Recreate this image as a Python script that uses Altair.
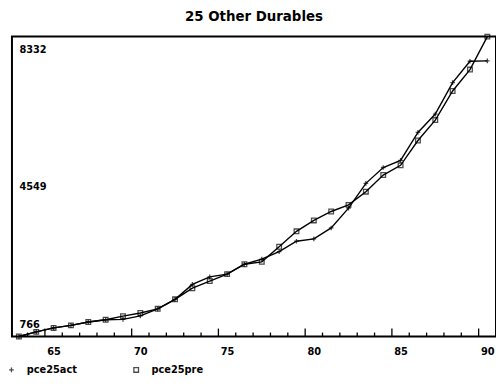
import altair as alt
import pandas as pd

years = list(range(63, 91))
act = [766, 883, 983, 1048, 1133, 1190, 1200, 1285, 1465, 1705, 2080, 2270, 2340, 2590,
       2720, 2906, 3170, 3230, 3505, 4004, 4630, 5030, 5210, 5915, 6377, 7170, 7710, 7720]
pre = [766, 883, 983, 1048, 1133, 1190, 1280, 1360, 1465, 1705, 1985, 2165, 2340, 2590,
       2650, 3030, 3420, 3695, 3920, 4087, 4420, 4840, 5085, 5710, 6226, 6960, 7500, 8332]
series_names = ["pce25act", "pce25pre"]
y_ticks = [766, 4549, 8332]
x_labels = [65, 70, 75, 80, 85, 90]
tick_pos = [63.5 + i for i in range(27)]

rows = []
for i, yr in enumerate(years):
    rows.append({"year": yr, "series": series_names[0], "value": act[i]})
    rows.append({"year": yr, "series": series_names[1], "value": pre[i]})
df = pd.DataFrame(rows)
ticks_df = pd.DataFrame({"pos": tick_pos,
                         "major": [((p + 0.5) % 5 == 0) for p in tick_pos]})

FONT = "'DejaVu Sans Condensed', 'DejaVu Sans', sans-serif"
xscale = alt.Scale(domain=[62.6, 90.5], nice=False, zero=False)
yscale = alt.Scale(domain=[766, 8332], nice=False, zero=False)

base = alt.Chart(df)
lines = base.mark_line(color="black", strokeWidth=1.4).encode(
    x=alt.X("year:Q", scale=xscale,
            axis=alt.Axis(values=x_labels, title=None, tickSize=0, domain=False,
                          grid=False, labelFont=FONT, labelFontSize=11, format="d",
                          labelFontWeight="bold", labelColor="black", labelPadding=9)),
    y=alt.Y("value:Q", scale=yscale,
            axis=alt.Axis(values=y_ticks, title=None, tickSize=0, domain=False,
                          grid=False, labelAlign="left", labelPadding=-7, format="d",
                          labelFlush=True, labelFlushOffset=-7, labelFont=FONT,
                          labelFontSize=11, labelFontWeight="bold", labelColor="black")),
    detail="series:N",
)
points = base.mark_point(filled=False, color="black", strokeWidth=1.3, size=22).encode(
    x=alt.X("year:Q", scale=xscale),
    y=alt.Y("value:Q", scale=yscale),
    shape=alt.Shape("series:N",
                    scale=alt.Scale(domain=series_names,
                                    range=["M-1,0H1M0,-1V1", "square"]),
                    legend=alt.Legend(title=None, orient="none", legendX=-6, legendY=331,
                                      direction="horizontal", columns=2, columnPadding=54,
                                      labelFont=FONT, labelFontSize=11, labelOffset=10,
                                      labelFontWeight="bold", labelColor="black",
                                      symbolStrokeColor="black", symbolStrokeWidth=1.3,
                                      symbolSize=22, symbolFillColor="transparent")),
)
minor_ticks = alt.Chart(ticks_df).transform_filter("!datum.major").mark_rule(
    color="black", strokeWidth=1.3).encode(
    x=alt.X("pos:Q", scale=xscale), y=alt.value(303), y2=alt.value(299))
major_ticks = alt.Chart(ticks_df).transform_filter("datum.major").mark_rule(
    color="black", strokeWidth=1.3).encode(
    x=alt.X("pos:Q", scale=xscale), y=alt.value(303), y2=alt.value(295))

chart = alt.layer(minor_ticks, major_ticks, lines, points).properties(
    width=489, height=303,
    background="white",
    padding={"left": 4, "top": 27, "right": 0, "bottom": 40},
    autosize=alt.AutoSizeParams(type="none"),
    title=alt.TitleParams("25 Other Durables", font=FONT, fontSize=15,
                          fontWeight="bold", color="black", offset=8),
).configure_view(stroke="black", strokeWidth=2)

chart.save("out.html", embed_options={"renderer": "svg", "actions": False})
